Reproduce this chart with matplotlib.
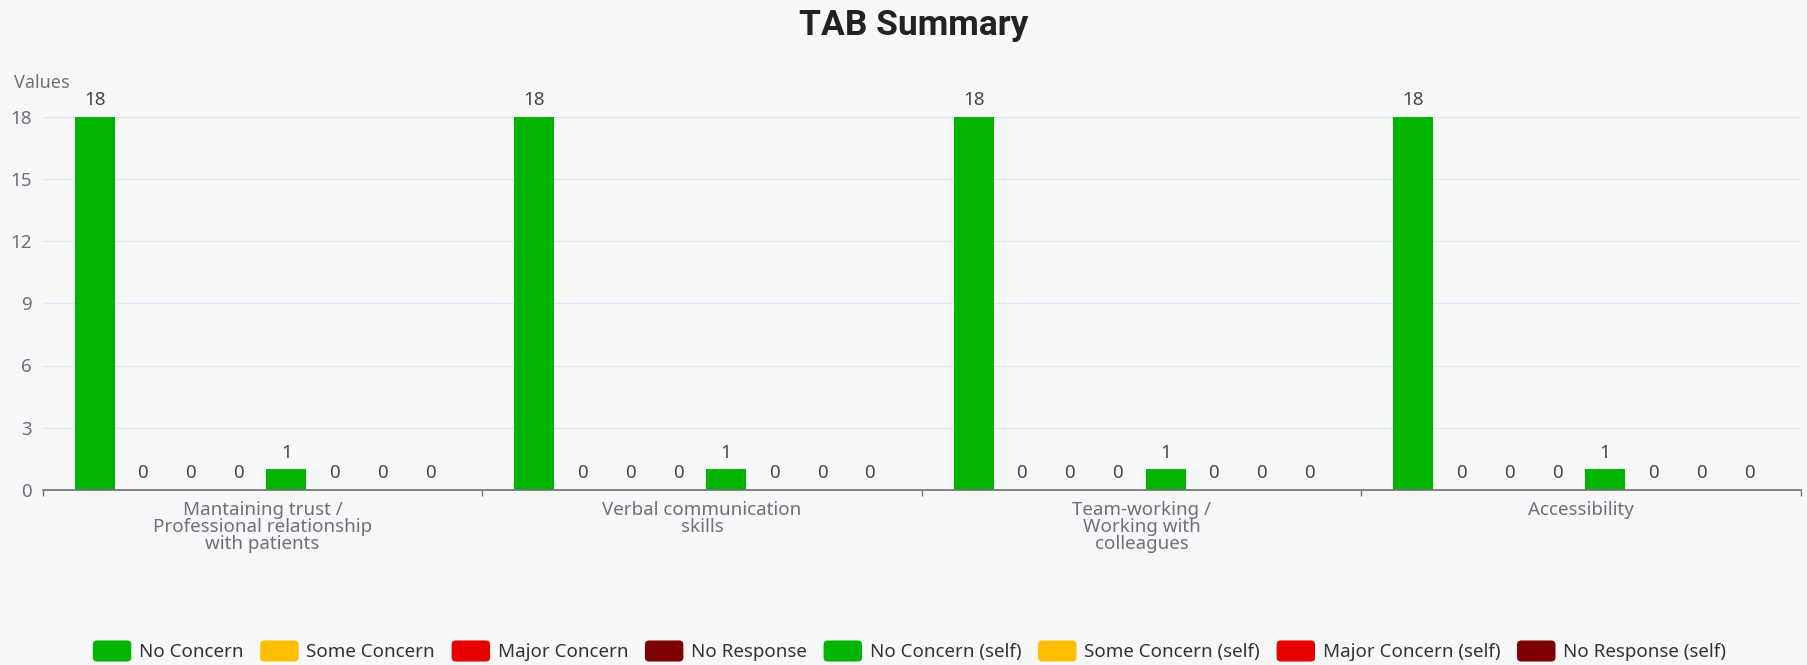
import numpy as np
from matplotlib import pyplot as plt
from matplotlib.patches import FancyBboxPatch
from matplotlib.legend_handler import HandlerPatch

categories = [
    "Mantaining trust /\nProfessional relationship\nwith patients",
    "Verbal communication\nskills",
    "Team-working /\nWorking with\ncolleagues",
    "Accessibility",
]
series_names = [
    "No Concern", "Some Concern", "Major Concern", "No Response",
    "No Concern (self)", "Some Concern (self)", "Major Concern (self)", "No Response (self)",
]
no_concern = [18, 18, 18, 18]
some_concern = [0, 0, 0, 0]
major_concern = [0, 0, 0, 0]
no_response = [0, 0, 0, 0]
no_concern_self = [1, 1, 1, 1]
some_concern_self = [0, 0, 0, 0]
major_concern_self = [0, 0, 0, 0]
no_response_self = [0, 0, 0, 0]
series_values = [no_concern, some_concern, major_concern, no_response,
                 no_concern_self, some_concern_self, major_concern_self, no_response_self]
series_colors = ["#00b400", "#ffbf00", "#e60000", "#7f0000",
                 "#00b400", "#ffbf00", "#e60000", "#7f0000"]
y_ticks = [0, 3, 6, 9, 12, 15, 18]

BG = "#f7f8fa"
GRAY = "#6e7079"
FS = 13.5

plt.rcParams['font.family'] = ['Noto Sans', 'DejaVu Sans']

W, H = 1808, 665
fig = plt.figure(figsize=(W / 100, H / 100), dpi=100, facecolor=BG)
ax_left, ax_right, ax_bottom, ax_top = 42.7, 1801, 490, 116.5
ax = fig.add_axes([ax_left / W, 1 - ax_bottom / H, (ax_right - ax_left) / W, (ax_bottom - ax_top) / H])
ax.set_facecolor(BG)

x = np.arange(len(categories))
step = 48 / 440
width = 40 / 440
handles = []
for k, (name, vals, col) in enumerate(zip(series_names, series_values, series_colors)):
    bars = ax.bar(x + (k - 3.5) * step, vals, width, color=col, label=name, zorder=3)
    ax.bar_label(bars, padding=5.5, fontsize=FS, color="#464646")
    handles.append(bars)

ax.set_xlim(-0.5, len(categories) - 0.5)
ax.set_ylim(0, 18)
ax.set_yticks(y_ticks)
ax.tick_params(axis='y', length=0, pad=8, labelsize=FS, labelcolor=GRAY)
ax.yaxis.grid(True, color="#e0e6f1", linewidth=1, zorder=0)
for s in ["top", "right", "left"]:
    ax.spines[s].set_visible(False)
ax.spines["bottom"].set_color(GRAY)
ax.spines["bottom"].set_linewidth(1.2)
ax.spines["bottom"].set_zorder(4)

# category boundary ticks (major) and centred labels (minor)
ax.set_xticks(np.arange(len(categories) + 1) - 0.5)
ax.set_xticklabels([])
ax.tick_params(axis='x', which='major', length=4, color=GRAY, width=1)
ax.set_xticks(x, minor=True)
ax.set_xticklabels(categories, minor=True, fontsize=FS, color=GRAY, linespacing=0.92)
ax.tick_params(axis='x', which='minor', length=0, pad=8)

ax.text(-0.0163, 1.09, "Values", transform=ax.transAxes, ha='left', va='center',
        fontsize=13, color=GRAY)

fig.text(0.5056, 1 - 25 / H, "TAB Summary", ha='center', va='center',
         fontsize=25.5, fontweight='bold', color="#222222", family=['Roboto', 'DejaVu Sans'])


def rounded_box(legend, orig_handle, xdescent, ydescent, width, height, fontsize):
    return FancyBboxPatch((-xdescent, -ydescent), width, height,
                          boxstyle="round,pad=0,rounding_size=3")


leg_handles = [h.patches[0] for h in handles]
fig.legend(leg_handles, series_names, loc='center', bbox_to_anchor=(0.503, 1 - 651 / H),
           ncol=8, frameon=False, fontsize=FS, labelcolor="#333333",
           handlelength=2.05, handleheight=1.35, handletextpad=0.4, columnspacing=0.9,
           handler_map={p: HandlerPatch(patch_func=rounded_box) for p in leg_handles})

fig.savefig("out.png", dpi=100, facecolor=BG)
